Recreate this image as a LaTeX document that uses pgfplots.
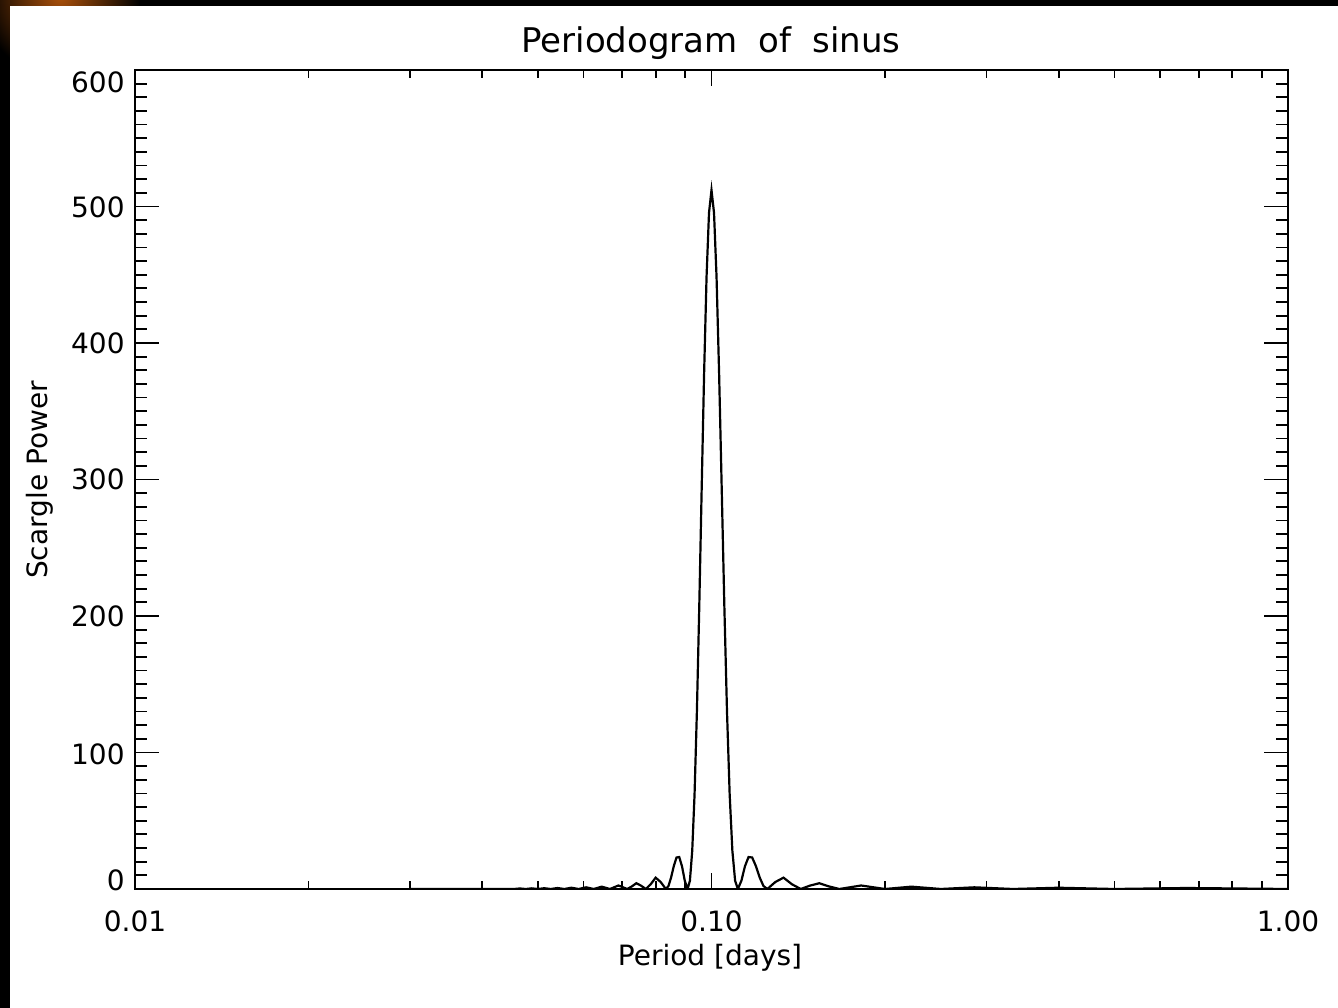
\documentclass[border=0pt]{standalone}
\usepackage{fontspec}
\setmainfont{DejaVu Sans}
\usepackage{pgfplots}
\pgfplotsset{compat=1.18}
\newcommand{\tickfont}{\fontsize{14bp}{16bp}\selectfont}
\begin{document}
\begin{tikzpicture}[x=1bp,y=1bp]
\useasboundingbox (0,0) rectangle (669,504);
\fill[black] (0,0) rectangle (669,504);
\begin{scope}
\clip (0,0) rectangle (669,504);
\shade[inner color={rgb,255:red,170;green,80;blue,10}, outer color=black] (30,506) circle (40);
\end{scope}
\fill[white] (5,0) rectangle (669,501);
% main axis: data + y ticks
\begin{axis}[at={(67.5bp,59.5bp)}, anchor=south west, scale only axis,
  width=576.5bp, height=409.5bp,
  xmode=log, xmin=0.01, xmax=1, ymin=0, ymax=600,
  xtick=\empty, ytick={0,100,...,600}, minor y tick num=9,
  yticklabels={},
  major tick length=12bp, minor tick length=6bp,
  tick style={black, line width=0.9bp},
  axis line style={black, line width=1bp}]
\addplot[black, line width=1.1bp] coordinates {
(0.03,0) (0.045455,0) (0.046512,0.39) (0.047619,0) (0.048780,0.47) (0.05,0)
(0.051282,0.57) (0.052632,0) (0.054054,0.72) (0.055556,0) (0.057143,0.92)
(0.058824,0) (0.060606,1.23) (0.0625,0) (0.064516,1.71) (0.066667,0)
(0.068966,2.56) (0.071429,0) (0.072727,1.84) (0.074074,4.23) (0.075472,2.46)
(0.076923,0) (0.078431,3.43) (0.08,8.30) (0.081633,5.12) (0.083333,0)
(0.084211,2.16) (0.085106,8.47) (0.086022,16.77) (0.086957,23.06)
(0.087912,23.42) (0.088889,16.60) (0.089888,6.00) (0.090909,0)
(0.091743,6.12) (0.092593,28.0) (0.093458,69.3) (0.094340,130.3)
(0.095238,207.5) (0.096154,293.3) (0.097087,377.3) (0.098039,448.1)
(0.099010,495.4) (0.1,512) (0.101010,495.4) (0.102041,448.1)
(0.103093,377.3) (0.104167,293.3) (0.105263,207.5) (0.106383,130.3)
(0.107527,69.3) (0.108696,28.0) (0.109890,6.12) (0.111111,0)
(0.112676,6.00) (0.114286,16.60) (0.115942,23.42) (0.117647,23.06)
(0.119403,16.77) (0.121212,8.47) (0.123077,2.16) (0.125,0)
(0.129032,5.12) (0.133333,8.30) (0.137931,3.43) (0.142857,0)
(0.148148,2.46) (0.153846,4.23) (0.16,1.84) (0.166667,0)
(0.181818,2.56) (0.2,0) (0.222222,1.71) (0.25,0) (0.285714,1.23)
(0.333333,0) (0.4,0.92) (0.5,0) (0.666667,0.72) (1.0,0)
};
\end{axis}
% x ticks and labels
\begin{axis}[at={(67.5bp,59.5bp)}, anchor=south west, scale only axis,
  width=576.5bp, height=409.5bp,
  xmode=log, xmin=0.01, xmax=1, ymin=0, ymax=600,
  ytick=\empty, xtick={0.01,0.1,1}, xticklabels={0.01,0.10,1.00},
  minor xtick={0.02,0.03,0.04,0.05,0.06,0.07,0.08,0.09,0.2,0.3,0.4,0.5,0.6,0.7,0.8,0.9},
  major tick length=8bp, minor tick length=4bp,
  tick style={black, line width=0.9bp},
  axis line style={black, line width=1bp},
  xticklabel style={font=\tickfont, anchor=center, yshift=-16bp, inner sep=0pt}]
\end{axis}
% y tick labels
\begin{axis}[at={(67.5bp,59.5bp)}, anchor=south west, scale only axis,
  width=576.5bp, height=409.5bp,
  xmin=0, xmax=1, ymin=0, ymax=600,
  xtick=\empty, ytick={6,99,199.5,300,400,499.6,591},
  yticklabels={0,100,200,300,400,500,600},
  major tick length=0pt, axis line style={draw=none}, ytick pos=left,
  yticklabel style={font=\tickfont, anchor=east, inner sep=0pt, xshift=-5bp}]
\end{axis}
\node[font=\fontsize{17bp}{20bp}\selectfont] at (355.5,482.5) {Periodogram\hspace{0.3em} of\hspace{0.3em} sinus};
\node[font=\tickfont] at (355,25) {Period [days]};
\node[font=\tickfont, rotate=90] at (20,264) {Scargle Power};
\end{tikzpicture}
\end{document}
